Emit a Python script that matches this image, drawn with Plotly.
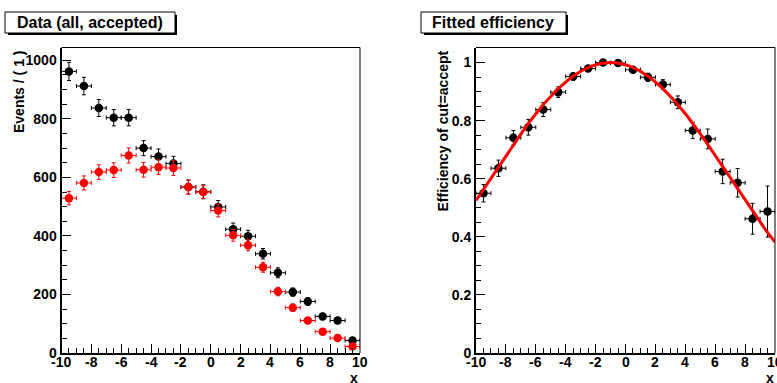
import numpy as np
import plotly.graph_objects as go

# ---------------- data ----------------
bin_centers = [-9.5, -8.5, -7.5, -6.5, -5.5, -4.5, -3.5, -2.5, -1.5, -0.5,
               0.5, 1.5, 2.5, 3.5, 4.5, 5.5, 6.5, 7.5, 8.5, 9.5]
all_counts = [962, 912, 837, 804, 804, 700, 671, 647, 567, 551,
              499, 423, 399, 339, 274, 208, 176, 125, 111, 43]
all_errors = [31, 30, 29, 28, 28, 26, 26, 25, 24, 23.5,
              22, 21, 20, 18, 17, 14, 13, 11, 11, 7]
acc_counts = [529, 581, 618, 625, 675, 626, 635, 632, 567, 550,
              487, 402, 368, 293, 210, 155, 111, 73, 51, 22]
acc_errors = [23, 24, 25, 25, 26, 25, 25, 25, 24, 23,
              22, 20, 19, 17, 14.5, 12.5, 10.5, 8.5, 7, 4.7]
eff_values = [0.550, 0.636, 0.741, 0.777, 0.838, 0.898, 0.952, 0.979, 1.000, 0.998,
              0.975, 0.949, 0.924, 0.863, 0.766, 0.737, 0.625, 0.586, 0.462, 0.487]
eff_errors = [0.030, 0.028, 0.025, 0.027, 0.024, 0.018, 0.013, 0.009, 0.003, 0.004,
              0.010, 0.014, 0.017, 0.022, 0.028, 0.034, 0.042, 0.049, 0.053, 0.088]
bin_half_width = 0.5
# fitted efficiency function parameters: (1-a) + a*cos((x-c)/b)
fit_a, fit_b, fit_c = 0.40, 5.12, -1.0

left_ticks = [0, 200, 400, 600, 800, 1000]
left_ticktext = ["0", "200", "400", "600", "800", "1000"]
right_ticks = [0, 0.2, 0.4, 0.6, 0.8, 1]
right_ticktext = ["0", "0.2", "0.4", "0.6", "0.8", "1"]
x_ticks = [-10, -8, -6, -4, -2, 0, 2, 4, 6, 8, 10]
x_ticktext = ["-10", "-8", "-6", "-4", "-2", "0", "2", "4", "6", "8", "10"]

# ---------------- geometry ----------------
W, H = 777, 383
def px(x):
    return x / W
def py(y):
    return 1 - y / H

y_bot, y_top = 353.0, 47.5
FONT = "Liberation Sans, Arial, sans-serif"

fig = go.Figure()

def err_style(color, arr):
    return dict(type="data", array=arr, color=color, thickness=1, width=2)

fig.add_trace(go.Scatter(
    x=bin_centers, y=all_counts, mode="markers", xaxis="x", yaxis="y",
    marker=dict(color="black", size=8.5),
    error_y=err_style("black", all_errors),
    error_x=dict(type="constant", value=bin_half_width, color="black", thickness=1, width=2),
    showlegend=False))
fig.add_trace(go.Scatter(
    x=bin_centers, y=acc_counts, mode="markers", xaxis="x", yaxis="y",
    marker=dict(color="#ff0000", size=8.5),
    error_y=err_style("#ff0000", acc_errors),
    error_x=dict(type="constant", value=bin_half_width, color="#ff0000", thickness=1, width=2),
    showlegend=False))
fig.add_trace(go.Scatter(
    x=bin_centers, y=eff_values, mode="markers", xaxis="x2", yaxis="y2",
    marker=dict(color="black", size=8.5),
    error_y=err_style("black", eff_errors),
    error_x=dict(type="constant", value=bin_half_width, color="black", thickness=1, width=2),
    showlegend=False))
xc = np.linspace(-10, 10, 401)
yc = (1 - fit_a) + fit_a * np.cos((xc - fit_c) / fit_b)
fig.add_trace(go.Scatter(
    x=xc, y=yc, mode="lines", xaxis="x2", yaxis="y2",
    line=dict(color="#ff0000", width=3), showlegend=False))

tickfont = dict(family=FONT, size=14, color="black", weight="bold")
common_x = dict(range=[-10, 10], tickvals=x_ticks, showticklabels=False,
                ticks="inside", ticklen=9, automargin=False,
                tickwidth=1, tickcolor="black", showgrid=False, zeroline=False,
                showline=True, linecolor="black", linewidth=2,
                minor=dict(dtick=0.5, tick0=-10, ticks="inside", ticklen=5,
                           tickcolor="black", tickwidth=1, showgrid=False))

fig.update_layout(
    width=W, height=H, margin=dict(l=0, r=0, t=0, b=0, autoexpand=False),
    paper_bgcolor="white", plot_bgcolor="white",
    xaxis=dict(domain=[px(61.5), px(360)], anchor="y", **common_x),
    xaxis2=dict(domain=[px(476), px(775)], anchor="y2", **common_x),
    yaxis=dict(domain=[py(y_bot), py(y_top)], anchor="x", automargin=False,
               range=[0, 1000 * (y_bot - y_top) / 292.7], tickvals=left_ticks,
               ticktext=left_ticktext,
               ticks="inside", ticklen=9, tickwidth=1, tickcolor="black",
               showgrid=False, zeroline=False, showline=True, linecolor="black",
               linewidth=2, tickfont=tickfont,
               minor=dict(dtick=50, tick0=0, ticks="inside", ticklen=5,
                          tickcolor="black", tickwidth=1, showgrid=False)),
    yaxis2=dict(domain=[py(y_bot), py(y_top)], anchor="x2", automargin=False,
                range=[0, (y_bot - y_top) / 290.5], tickvals=right_ticks,
                ticktext=right_ticktext,
                ticks="inside", ticklen=9, tickwidth=1, tickcolor="black",
                showgrid=False, zeroline=False, showline=True, linecolor="black",
                linewidth=2, tickfont=tickfont,
                minor=dict(dtick=0.05, tick0=0, ticks="inside", ticklen=5,
                           tickcolor="black", tickwidth=1, showgrid=False)),
)

shapes = []
# thin top/right frame lines
for xa, ya in (("x", "y"), ("x2", "y2")):
    shapes.append(dict(type="line", xref=f"{xa} domain", yref=f"{ya} domain",
                       x0=0, x1=1, y0=1, y1=1, line=dict(color="black", width=1)))
    shapes.append(dict(type="line", xref=f"{xa} domain", yref=f"{ya} domain",
                       x0=1, x1=1, y0=0, y1=1, line=dict(color="black", width=1)))
# title boxes with shadow
for (x0, x1) in ((5, 175), (421, 566)):
    shapes.append(dict(type="rect", xref="paper", yref="paper",
                       x0=px(x0 + 3), x1=px(x1 + 2), y0=py(35), y1=py(15),
                       fillcolor="black", line=dict(width=0)))
    shapes.append(dict(type="rect", xref="paper", yref="paper",
                       x0=px(x0), x1=px(x1), y0=py(33), y1=py(12),
                       fillcolor="white", line=dict(color="black", width=1)))
fig.update_layout(shapes=shapes)

titlefont = dict(family=FONT, size=16, color="black", weight="bold")
labfont = dict(family=FONT, size=14, color="black", weight="bold")
ann = [
    dict(text="Data (all, accepted)", x=px(90), y=py(22.5), xanchor="center", yanchor="middle", font=titlefont),
    dict(text="Fitted efficiency", x=px(493.5), y=py(22.5), xanchor="center", yanchor="middle", font=titlefont),
    dict(text="Events / ( 1 )", x=px(19), y=py(49), xanchor="center", yanchor="top", textangle=-90, font=labfont),
    dict(text="Efficiency of cut=accept", x=px(442), y=py(49), xanchor="center", yanchor="top", textangle=-90, font=labfont),
    dict(text="x", x=px(354), y=py(377.5), xanchor="center", yanchor="middle", font=labfont),
    dict(text="x", x=px(770), y=py(377.5), xanchor="center", yanchor="middle", font=labfont),
]
for a in ann:
    a.update(xref="paper", yref="paper", showarrow=False)
# x-axis tick labels (placed closer to the axis than plotly's default)
for xa in ("x", "x2"):
    for v, t in zip(x_ticks, x_ticktext):
        ann.append(dict(text=t, x=v, xref=xa, y=py(362), yref="paper",
                        xanchor="center", yanchor="middle", showarrow=False,
                        font=tickfont))
fig.update_layout(annotations=ann)

fig.write_html("out.html", config={"displayModeBar": False},
               post_script="document.body.style.margin='0px';document.body.style.overflow='hidden';")
